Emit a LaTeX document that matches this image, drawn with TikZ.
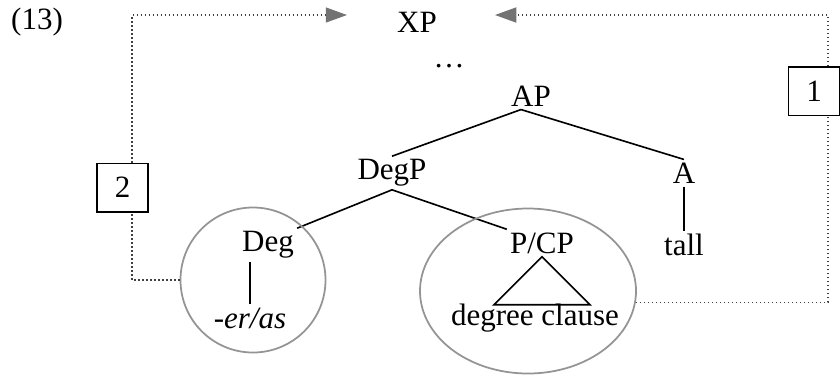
\documentclass[tikz,border=0pt]{standalone}
\usepackage{fontspec}
\setmainfont{Liberation Serif}
\usetikzlibrary{arrows.meta,shapes.geometric}
\tikzset{
  lbl/.style={inner sep=1pt,font=\fontsize{12.4}{15}\selectfont},
  movepath/.style={densely dotted,line width=0.6pt,black!75},
  movetip/.style={-{Triangle[length=8.5pt,width=6pt,fill=black!55,color=black!55]}},
  numbox/.style={draw,line width=0.6pt,inner sep=0pt,minimum width=20.4pt,minimum height=19.4pt,font=\fontsize{12.4}{15}\selectfont},
  ring/.style={draw=black!42,line width=0.7pt,inner sep=0pt}
}
\begin{document}
\begin{tikzpicture}[x=0.4pt,y=-0.4pt,line width=0.65pt]
        \useasboundingbox (0,0) rectangle (840,375);
        % \draw[step=50,gray,very thin] (0,0) grid (840,375);

        % tree
        \draw (37,22) node[lbl] (ex) {(13)};
        \draw (417,22) node[lbl] (XP) {XP};
        \draw (449,66) node[lbl] (dots) {\dots};
        \draw (531,96) node[lbl] (AP) {AP};
        \draw (392,173) node[lbl] (DegP) {DegP};
        \draw (684,173) node[lbl] (A) {A};
        \draw (268,245) node[lbl] (Deg) {Deg};
        \draw (542,243) node[lbl] (PCP) {P/CP};
        \draw (684,245) node[lbl] (tall) {tall};
        \draw (250,318) node[lbl] (eras) {\emph{-er/as}};
        \draw (535,318) node[lbl] (clause) {degree clause};

        \draw ([xshift=-4pt]AP.south) -- (DegP.north);
        \draw ([xshift=-4pt]AP.south) -- (A.north);
        \draw (DegP.south) -- (Deg.north east);
        \draw (DegP.south) -- (PCP.north west);
        \draw (A.south) -- (tall.north);
        \draw (eras.north) -- (eras.north |- Deg.south);
        \draw (PCP.south) -- ++(-48,48) -- ++(96,0) -- cycle;

        % circles
        \draw (253,280) node[ring,circle,minimum size=58pt] (circA) {};
        \draw (528,291) node[ring,ellipse,minimum width=86.4pt,minimum height=66pt] (circB) {};

        % boxes
        \draw (814,91) node[numbox] (box1) {1};
        \draw (122.5,187.5) node[numbox] (box2) {2};
        \coordinate (railR) at (828,15);
        \coordinate (railL) at (132,15);
        \coordinate (tipR) at (495,15);
        \coordinate (tipL) at (347,15);

        % movement paths
        \draw[movepath] (circB.-6) -| (box1.south -| railR);
        \draw[movepath,movetip] (box1.north -| railR) |- (tipR);
        \draw[movepath] (circA.west) -| (box2.south -| railL);
        \draw[movepath,movetip] (box2.north -| railL) |- (tipL);

      \end{tikzpicture}
\end{document}
